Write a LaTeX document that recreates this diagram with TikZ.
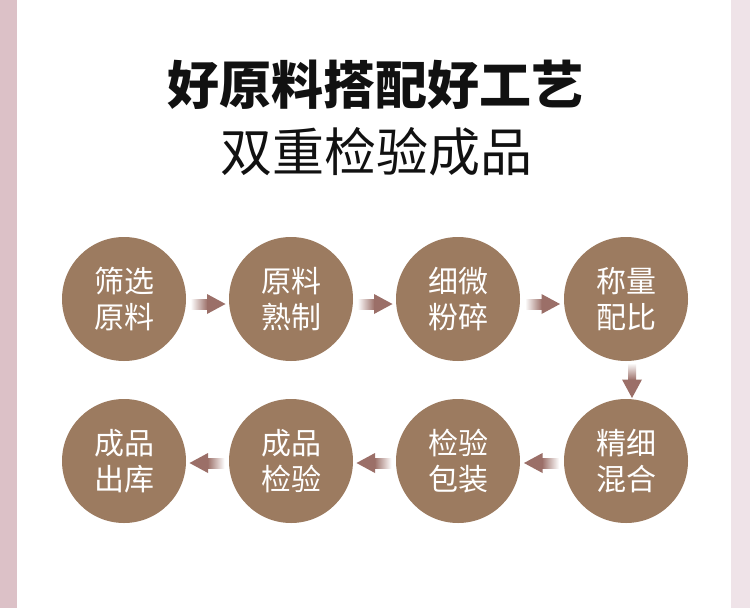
\documentclass[tikz,border=0pt]{standalone}
\usepackage{fontspec}
\newfontfamily\cjk{Noto Sans CJK SC}
\usetikzlibrary{calc}

\definecolor{stepfill}{HTML}{9C7B60}
\definecolor{arrowc}{HTML}{9B6F68}
\definecolor{leftband}{HTML}{DCC1C7}
\definecolor{rightband}{HTML}{EFE3E8}
\definecolor{titlec}{HTML}{111111}

\tikzset{
  stepnode/.style={circle, fill=stepfill, draw=none, minimum size=124pt, inner sep=0pt,
    text=white, align=center, font=\cjk\fontsize{30}{36}\selectfont},
}

%% 箭头：渐变箭杆 + 实心三角头（#1 起点，#2 终点）
\newcommand\arrright[2]{%
  \coordinate (am) at ($(#1.east)!0.5!(#2.west)+(0,5)$);
  \shade[left color=white, right color=arrowc] ($(am)+(-17,-5)$) rectangle ($(am)+(0,5)$);
  \fill[arrowc] ($(am)+(-0.5,-10)$) -- ($(am)+(18,0)$) -- ($(am)+(-0.5,10)$) -- cycle;}
\newcommand\arrleft[2]{%
  \coordinate (am) at ($(#1.west)!0.5!(#2.east)+(0,2)$);
  \shade[right color=white, left color=arrowc] ($(am)+(0,-5)$) rectangle ($(am)+(17,5)$);
  \fill[arrowc] ($(am)+(0.5,-10)$) -- ($(am)+(-18,0)$) -- ($(am)+(0.5,10)$) -- cycle;}
\newcommand\arrdown[2]{%
  \coordinate (am) at ($(#1.south)!0.5!(#2.north)+(6,0)$);
  \shade[top color=white, bottom color=arrowc] ($(am)+(-4,-17)$) rectangle ($(am)+(4,0)$);
  \fill[arrowc] ($(am)+(-10,-0.5)$) -- ($(am)+(0,18)$) -- ($(am)+(10,-0.5)$) -- cycle;}

\begin{document}
\begin{tikzpicture}[x=1pt, y=-1pt]

  %% ════ 底色与两侧色带 ════
  \fill[white] (0,0) rectangle (750,608);
  \fill[leftband] (0,0) rectangle (17,608);
  \fill[rightband] (731,0) rectangle (750,608);

  %% ════ 标题 ════
  \node[text=titlec, font=\cjk\bfseries\fontsize{52}{60}\selectfont] (title1) at (375,85) {好原料搭配好工艺};
  \node[text=titlec, font=\cjk\fontsize{52}{60}\selectfont] (title2) at (376,152) {双重检验成品};

  %% ════ 第一行步骤 ════
  \node[stepnode] (st1) at (124,299) {筛选\\原料};
  \node[stepnode] (st2) at (291,299) {原料\\熟制};
  \node[stepnode] (st3) at (458,299) {细微\\粉碎};
  \node[stepnode] (st4) at (626,299) {称量\\配比};

  %% ════ 第二行步骤 ════
  \node[stepnode] (st5) at (626,461) {精细\\混合};
  \node[stepnode] (st6) at (458,461) {检验\\包装};
  \node[stepnode] (st7) at (291,461) {成品\\检验};
  \node[stepnode] (st8) at (124,461) {成品\\出库};

  %% ════ 箭头 ════
  \arrright{st1}{st2}
  \arrright{st2}{st3}
  \arrright{st3}{st4}
  \arrdown{st4}{st5}
  \arrleft{st5}{st6}
  \arrleft{st6}{st7}
  \arrleft{st7}{st8}

  % 钉死画布
  \pgfresetboundingbox
  \path[use as bounding box] (0,0) rectangle (750,608);
\end{tikzpicture}
\end{document}
